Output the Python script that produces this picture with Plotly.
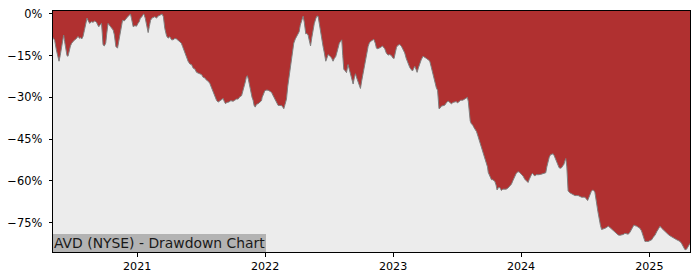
import numpy as np
import pandas as pd
import plotly.graph_objects as go

# Decimal-year dates and drawdown (%)
years = [
    2020.344, 2020.357, 2020.370, 2020.383, 2020.391, 2020.400, 2020.409, 2020.420, 2020.427, 2020.435,
    2020.443, 2020.453, 2020.461, 2020.470, 2020.480, 2020.490, 2020.500, 2020.509, 2020.521, 2020.529,
    2020.539, 2020.552, 2020.560, 2020.568, 2020.578, 2020.588, 2020.597, 2020.603, 2020.609, 2020.619,
    2020.630, 2020.642, 2020.656, 2020.670, 2020.683, 2020.693, 2020.701, 2020.713, 2020.722, 2020.728,
    2020.734, 2020.744, 2020.755, 2020.763, 2020.773, 2020.783, 2020.792, 2020.802, 2020.813, 2020.822,
    2020.834, 2020.847, 2020.857, 2020.865, 2020.877, 2020.886, 2020.900, 2020.912, 2020.922, 2020.930,
    2020.943, 2020.948, 2020.955, 2020.963, 2020.969, 2020.982, 2020.995,
    2021.005, 2021.016, 2021.025, 2021.034, 2021.045, 2021.052, 2021.063, 2021.073, 2021.086, 2021.095,
    2021.105, 2021.115, 2021.125, 2021.138, 2021.152, 2021.162, 2021.177, 2021.195, 2021.205, 2021.216,
    2021.230, 2021.242, 2021.255, 2021.269, 2021.281, 2021.295, 2021.308, 2021.320, 2021.334, 2021.345,
    2021.355, 2021.365, 2021.373, 2021.386, 2021.398, 2021.412, 2021.425, 2021.438, 2021.451, 2021.464,
    2021.477, 2021.490, 2021.503, 2021.516, 2021.529, 2021.542, 2021.555, 2021.568, 2021.581, 2021.594,
    2021.607, 2021.620, 2021.633, 2021.646, 2021.659, 2021.672, 2021.681, 2021.691, 2021.701, 2021.716,
    2021.732, 2021.750, 2021.763, 2021.777, 2021.789, 2021.802, 2021.816, 2021.826, 2021.836, 2021.845,
    2021.853, 2021.861, 2021.869, 2021.880, 2021.891, 2021.898, 2021.906, 2021.914, 2021.923, 2021.933,
    2021.945, 2021.959, 2021.972, 2021.977, 2021.986, 2021.998,
    2022.009, 2022.023, 2022.037, 2022.050, 2022.064, 2022.076, 2022.088, 2022.102, 2022.115, 2022.128,
    2022.138, 2022.146, 2022.156, 2022.167, 2022.177, 2022.188, 2022.197, 2022.206, 2022.216, 2022.224,
    2022.236, 2022.245, 2022.255, 2022.266, 2022.275, 2022.284, 2022.297, 2022.306, 2022.318, 2022.326,
    2022.336, 2022.345, 2022.355, 2022.365, 2022.375, 2022.384, 2022.396, 2022.404, 2022.414, 2022.423,
    2022.433, 2022.443, 2022.453, 2022.463, 2022.474, 2022.482, 2022.492, 2022.502, 2022.511, 2022.521,
    2022.531, 2022.541, 2022.552, 2022.560, 2022.570, 2022.580, 2022.589, 2022.599, 2022.607, 2022.615,
    2022.627, 2022.636, 2022.648, 2022.658, 2022.667, 2022.677, 2022.688, 2022.697, 2022.706, 2022.716,
    2022.727, 2022.736, 2022.745, 2022.755, 2022.766, 2022.775, 2022.787, 2022.795, 2022.805, 2022.814,
    2022.823, 2022.838, 2022.849, 2022.861, 2022.870, 2022.880, 2022.891, 2022.904, 2022.917, 2022.927,
    2022.935, 2022.947, 2022.961, 2022.974, 2022.988, 2022.998,
    2023.008, 2023.017, 2023.027, 2023.037, 2023.052, 2023.064, 2023.073, 2023.086, 2023.091, 2023.103,
    2023.113, 2023.123, 2023.131, 2023.142, 2023.152, 2023.162, 2023.170, 2023.180, 2023.188, 2023.197,
    2023.209, 2023.220, 2023.234, 2023.248, 2023.261, 2023.275, 2023.287, 2023.298, 2023.308, 2023.318,
    2023.326, 2023.338, 2023.348, 2023.355, 2023.359, 2023.369, 2023.378, 2023.391, 2023.404, 2023.416,
    2023.430, 2023.443, 2023.456, 2023.469, 2023.482, 2023.494, 2023.503, 2023.516, 2023.529, 2023.545,
    2023.560, 2023.572, 2023.581, 2023.588, 2023.595, 2023.603, 2023.611, 2023.623, 2023.633, 2023.642,
    2023.652, 2023.664, 2023.677, 2023.687, 2023.695, 2023.705, 2023.716, 2023.728, 2023.738, 2023.744,
    2023.756, 2023.769, 2023.779, 2023.789, 2023.795, 2023.805, 2023.813, 2023.822, 2023.834, 2023.841,
    2023.847, 2023.857, 2023.873, 2023.884, 2023.898, 2023.912, 2023.925, 2023.938, 2023.951, 2023.963,
    2023.977, 2023.990,
    2024.003, 2024.016, 2024.029, 2024.042, 2024.055, 2024.064, 2024.073, 2024.081, 2024.089, 2024.099,
    2024.107, 2024.117, 2024.125, 2024.138, 2024.152, 2024.166, 2024.177, 2024.185, 2024.193, 2024.201,
    2024.211, 2024.220, 2024.230, 2024.240, 2024.250, 2024.259, 2024.271, 2024.283, 2024.297, 2024.306,
    2024.316, 2024.326, 2024.334, 2024.341, 2024.349, 2024.357, 2024.361, 2024.367, 2024.380, 2024.394,
    2024.408, 2024.420, 2024.431, 2024.445, 2024.459, 2024.472, 2024.486, 2024.498, 2024.509, 2024.519,
    2024.529, 2024.537, 2024.548, 2024.558, 2024.568, 2024.576, 2024.584, 2024.589, 2024.599, 2024.609,
    2024.619, 2024.628, 2024.641, 2024.654, 2024.666, 2024.680, 2024.693, 2024.706, 2024.719, 2024.732,
    2024.744, 2024.758, 2024.771, 2024.784, 2024.797, 2024.810, 2024.822, 2024.836, 2024.849, 2024.863,
    2024.873, 2024.880, 2024.892, 2024.902, 2024.914, 2024.927, 2024.939, 2024.948, 2024.959, 2024.966,
    2024.978, 2024.992,
    2025.005, 2025.019, 2025.031, 2025.045, 2025.058, 2025.070, 2025.084, 2025.095, 2025.109, 2025.123,
    2025.136, 2025.148, 2025.162, 2025.175, 2025.188, 2025.201, 2025.214, 2025.227, 2025.240, 2025.252,
    2025.261, 2025.271, 2025.279, 2025.291, 2025.297, 2025.306, 2025.314, 2025.318,
]

drawdown_pct = [
    -8.5, -9.5, -12.9, -15, -17, -15, -12.9, -10, -7.6, -10,
    -13, -15, -15.2, -13, -11.5, -10.5, -9.9, -9.5, -9.1, -8.5,
    -8.1, -8.8, -8.5, -9, -8.1, -6, -3.4, -1.7, -1.5, -2.5,
    -3.4, -2.8, -3.0, -2.5, -3.0, -4, -4.6, -3.8, -3.4, -7,
    -11.1, -11.5, -10.5, -7, -3.4, -4, -4.6, -5, -5.8, -7.5,
    -11.7, -12.3, -9.5, -7, -4, -2.3, -2.5, -1.7, -1.2, -0.8,
    -0.3, 0, -1.5, -4, -4.6, -4.2, -4.4,
    -3.5, -2.8, -1.5, -1.2, -0.3, 0, -1.5, -3.4, -6.7, -4.5,
    -2.3, -1.5, -1.2, -1.0, -1.5, -0.8, -0.5, 0, -1, -5.2,
    -7.9, -8.7, -8.2, -9.3, -9.3, -8.8, -9.0, -9.5, -9.9, -10.5,
    -11.7, -13, -14, -16, -17, -18, -18.2, -19.5, -19.8, -21,
    -21.3, -21.5, -21.8, -22.8, -23, -23.8, -24.2, -25, -26.4, -28,
    -29.4, -31, -31.7, -31.2, -30.8, -30.4, -31.5, -32.3, -31.8, -31.7,
    -31.2, -31.4, -31, -30.6, -30.6, -29.8, -29.4, -28, -26.4, -24.5,
    -22.8, -22.2, -23.5, -26.4, -28.5, -30, -31, -32.9, -33.5, -32.5,
    -32.3, -31.7, -31.2, -30, -29, -27.6,
    -27.4, -27.4, -27.8, -28.2, -29.5, -30.6, -31.5, -32.9, -32.9, -32.9,
    -33.5, -34.1, -32.5, -30.6, -26, -22.3, -19, -16.4, -13, -10.5,
    -9, -8.1, -7.5, -6.4, -4, -2.3, -0.8, -3, -7.2, -7,
    -7.6, -9.5, -11.5, -8.5, -5.8, -3.5, -1.7, -0.8, -0.8, -3.5,
    -7, -9.5, -11.7, -14, -17, -16, -14.6, -15, -15.3, -16,
    -17, -16, -15.3, -14, -11.7, -10.5, -9.9, -9.3, -15, -19.9,
    -20.5, -21.1, -18.2, -20, -22.3, -23.8, -25.2, -23, -21.5, -23,
    -24.7, -26, -26.8, -24, -21.1, -18.5, -16.4, -14, -11.7, -10.5,
    -9.9, -9.5, -9.1, -10.5, -12.3, -12.5, -12.3, -12, -11.5, -12,
    -12.5, -14, -14.8, -14.6, -15, -15.8,
    -16, -14, -12, -11.3, -11, -11.5, -12.3, -13, -14, -16,
    -17.3, -18.5, -19.3, -20, -20.5, -19.5, -18.8, -20, -21, -19.5,
    -17.6, -16.5, -15.2, -15.5, -16, -16.5, -17, -19, -21.1, -23.5,
    -25, -26.5, -27.5, -31, -34.1, -33.8, -33.1, -33, -32.8, -32,
    -31.3, -31.8, -32.3, -31.8, -31.5, -31.5, -32, -31.5, -31, -31,
    -30.6, -30.2, -30, -31.5, -35, -38.5, -39.4, -40, -40.9, -41.5,
    -42.3, -44, -45.9, -47, -48.2, -49.5, -51.2, -53, -55, -57,
    -58.3, -59.6, -59.6, -59.8, -60.2, -61.5, -63.3, -62.5, -62.4, -63,
    -63.5, -63, -63, -63, -62.6, -62, -61.2, -59.8, -58.3, -57.3,
    -56.7, -57,
    -57.7, -58.3, -59.4, -60, -60.6, -59.5, -58.3, -57.8, -57.3, -57.8,
    -58.3, -57.8, -57.7, -57.8, -57.7, -57.5, -57.5, -57.3, -57.1, -55,
    -53, -51.5, -50.6, -50.3, -50.3, -51, -52.4, -54, -55.3, -55.5,
    -55.3, -54.6, -54.1, -53, -52, -55, -60, -63.6, -64.3, -64.7,
    -65, -65.3, -65.3, -65.3, -65.6, -65.9, -65.9, -65.9, -66.5, -67.1,
    -66, -64.7, -63.8, -63.3, -63.5, -64.2, -66, -68, -71, -74.2,
    -76, -77.5, -77.4, -77.1, -76.8, -76.3, -76.8, -77.3, -77.8, -78.3,
    -79, -79.5, -79.6, -79.5, -79.3, -78.9, -79, -79.2, -78.5, -77.5,
    -76.5, -75.9, -76.2, -76.3, -76.7, -77.1, -78, -79.5, -80.8, -81.8,
    -81.8, -81.8,
    -81.5, -81.2, -80.3, -79.5, -78.3, -77.1, -76.3, -77, -77.7, -78.2,
    -78.9, -79.3, -79.8, -80.2, -80.7, -81, -81.2, -81.5, -81.8, -82.5,
    -83.4, -84, -84.8, -84.6, -84.2, -83.5, -82.8, -82.5,
]

y_ticks = [0, -15, -30, -45, -60, -75]
y_tick_labels = ["0%", "\u221215%", "\u221230%", "\u221245%", "\u221260%", "\u221275%"]
x_tick_years = [2021, 2022, 2023, 2024, 2025]
title_text = "AVD (NYSE) - Drawdown Chart"


def to_ts(d):
    y = int(np.floor(d))
    start = pd.Timestamp(y, 1, 1)
    end = pd.Timestamp(y + 1, 1, 1)
    return start + (end - start) * (d - y)


dates = [to_ts(d) for d in years]
baseline = [-100] * len(dates)

RED = "#b03030"
LIGHT = "#ececec"
FONT = "DejaVu Sans"

fig = go.Figure()
fig.add_trace(go.Scatter(x=dates, y=baseline, mode="lines",
                         line=dict(width=0, color=LIGHT), hoverinfo="skip", showlegend=False))
fig.add_trace(go.Scatter(x=dates, y=drawdown_pct, mode="lines", fill="tonexty",
                         fillcolor=LIGHT, line=dict(color="#7f7f7f", width=1),
                         showlegend=False))

fig.update_layout(
    width=700, height=280,
    margin=dict(l=53, r=10, t=7, b=28),
    paper_bgcolor="white",
    plot_bgcolor=RED,
    font=dict(family=FONT, size=11.1, color="black"),
    showlegend=False,
)
fig.update_xaxes(
    type="date",
    range=[dates[0], dates[-1]],
    tickvals=[pd.Timestamp(y, 1, 1) for y in x_tick_years],
    ticktext=[str(y) for y in x_tick_years],
    showgrid=False, zeroline=False,
    showline=True, mirror=True, linecolor="black", linewidth=1,
    ticks="outside", ticklen=3.5, tickwidth=1, tickcolor="black",
    tickfont=dict(family=FONT, size=11.1, color="black"),
)
fig.update_yaxes(
    range=[-85.6, 1.06],
    tickvals=y_ticks, ticktext=y_tick_labels,
    showgrid=False, zeroline=False,
    showline=True, mirror=True, linecolor="black", linewidth=1,
    ticks="outside", ticklen=3.5, tickwidth=1, tickcolor="black",
    ticklabelstandoff=4,
    tickfont=dict(family=FONT, size=11.4, color="black"),
)
fig.add_annotation(
    text=title_text, xref="paper", yref="paper", x=0, y=0,
    xanchor="left", yanchor="bottom", showarrow=False,
    bgcolor="#b3b3b3", borderpad=1, borderwidth=0,
    font=dict(family=FONT, size=13.9, color="#1a1a1a"),
)

fig.write_html("out.html")
